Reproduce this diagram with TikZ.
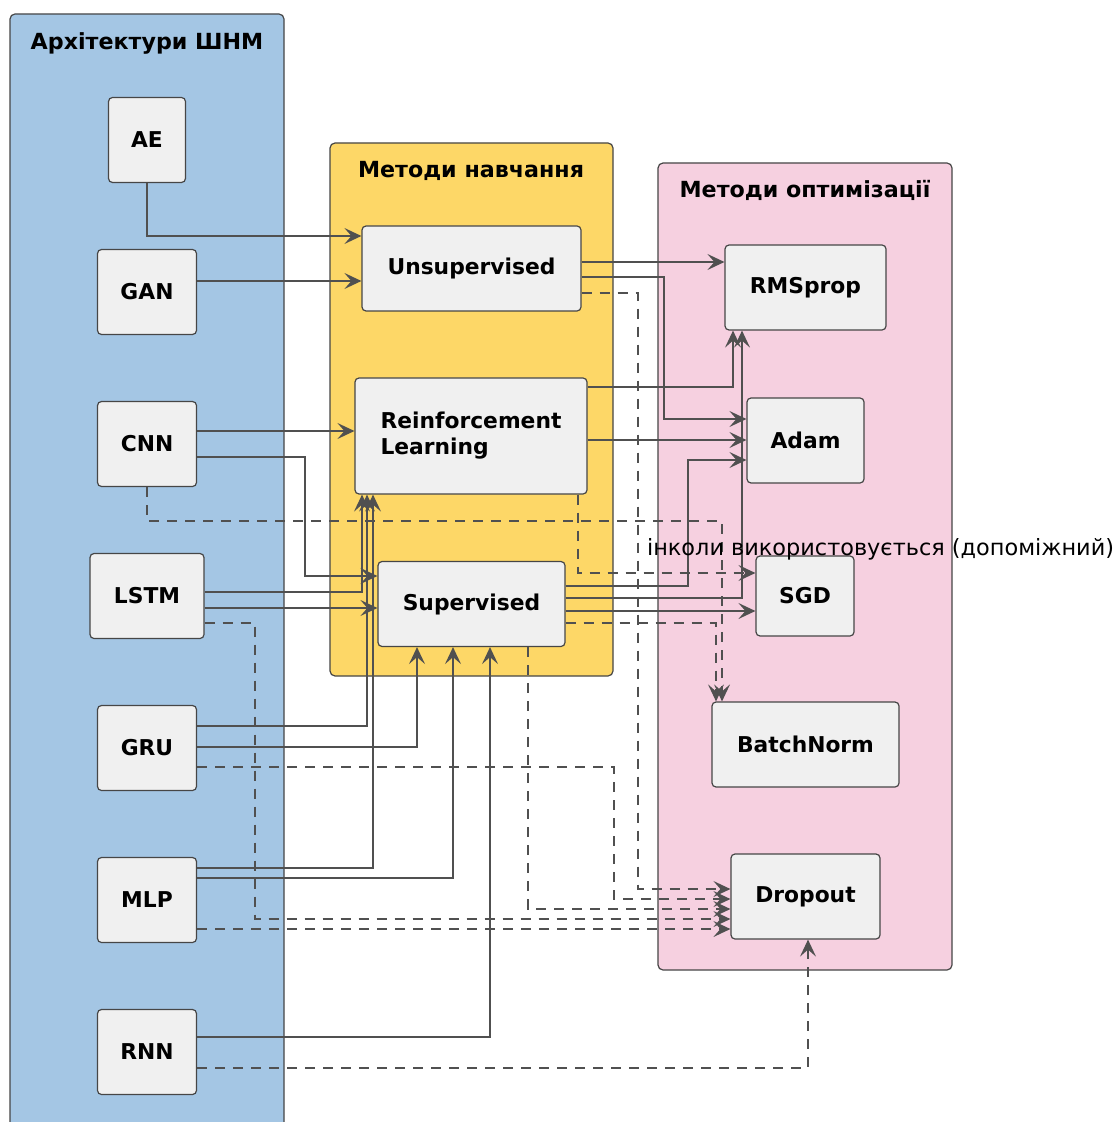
\documentclass[tikz,border=0pt]{standalone}
\usepackage{fontspec}
\setmainfont{DejaVu Sans}
\usetikzlibrary{arrows.meta}

\definecolor{archblue}{RGB}{164,198,228}
\definecolor{trainyellow}{RGB}{253,215,103}
\definecolor{optpink}{RGB}{246,208,224}
\definecolor{boxgray}{RGB}{240,240,240}
\definecolor{edgegray}{RGB}{70,70,70}
\definecolor{linegray}{RGB}{80,80,80}

\begin{document}
\begin{tikzpicture}[x=0.5pt, y=-0.5pt,
font=\fontsize{11.2}{13}\selectfont,
box/.style={draw=edgegray, fill=boxgray, rounded corners=2pt, line width=0.6pt,
    minimum height=42.5pt, inner xsep=4pt, font=\fontsize{10.9}{13}\selectfont\bfseries},
pkg/.style={draw=edgegray, rounded corners=2.5pt, line width=0.6pt},
pkgtitle/.style={font=\fontsize{11.1}{13}\selectfont\bfseries},
conn/.style={draw=linegray, line width=0.75pt, -{Stealth[length=8.5pt,width=8pt,inset=3.5pt]}},
opt/.style={conn, dash pattern=on 5pt off 4pt},
]
\clip (0,0) rectangle (1114,1122);
\fill[white] (0,0) rectangle (1114,1122);

% packages
\draw[pkg, fill=archblue] (10,14) rectangle (284,1150);
\draw[pkg, fill=trainyellow] (330,143) rectangle (613,676);
\draw[pkg, fill=optpink] (658,163) rectangle (952,970);
\node[pkgtitle] (tarch) at (147,43) {Архітектури ШНМ};
\node[pkgtitle] (ttrain) at (471,171) {Методи навчання};
\node[pkgtitle] (topt) at (805,190) {Методи оптимізації};

% architectures
\node[box, minimum width=38.5pt] (ae) at (147,140) {AE};
\node[box, minimum width=49.5pt] (gan) at (147,292) {GAN};
\node[box, minimum width=49.5pt] (cnn) at (147,444) {CNN};
\node[box, minimum width=57pt] (lstm) at (147,596) {LSTM};
\node[box, minimum width=49.5pt] (gru) at (147,748) {GRU};
\node[box, minimum width=49.5pt] (mlp) at (147,900) {MLP};
\node[box, minimum width=49.5pt] (rnn) at (147,1052) {RNN};

% training
\node[box, minimum width=109.5pt] (unsup) at (471.5,268.5) {Unsupervised};
\node[box, minimum width=116pt, minimum height=58pt, align=left] (rl) at (471,436) {Reinforcement\\Learning};
\node[box, minimum width=93.5pt] (sup) at (471.5,604) {Supervised};

% optimisation
\node[box, minimum width=80.5pt] (rms) at (805.5,287.5) {RMSprop};
\node[box, minimum width=58.5pt] (adam) at (805.5,440.5) {Adam};
\node[box, minimum width=49pt, minimum height=40pt] (sgd) at (805,596) {SGD};
\node[box, minimum width=93.5pt] (bn) at (805.5,744.5) {BatchNorm};
\node[box, minimum width=74.5pt] (drop) at (805.5,896.5) {Dropout};

\draw[conn] (ae.south) |- (unsup.west |- 0,236);
\draw[conn] (gan.east |- 0,281) -- (unsup.west |- 0,281);
\draw[conn] (cnn.east |- 0,431) -- (rl.west |- 0,431);
\draw[conn] (cnn.east |- 0,457) -| (305,576) -- (sup.west |- 0,576);
\draw[opt] (cnn.south) |- (722,521) -- (bn.north -| 722,0);

\draw[conn] (unsup.east |- 0,262) -- (rms.west |- 0,262);
\draw[conn] (unsup.east |- 0,277) -| (664,419) -- (adam.west |- 0,419);
\draw[opt] (unsup.east |- 0,293) -| (638,889) -- (drop.west |- 0,889);

\draw[conn] (rl.east |- 0,387) -| (rms.south -| 733,0);
\draw[conn] (rl.east |- 0,440) -- (adam.west |- 0,440);
\draw[opt] (rl.south -| 578,0) |- (sgd.west |- 0,573);

\draw[conn] (sup.east |- 0,586) -| (688,460) -- (adam.west |- 0,460);
\draw[conn] (sup.east |- 0,598) -| (rms.south -| 742,0);
\draw[conn] (sup.east |- 0,611) -- (sgd.west |- 0,611);
\draw[opt] (sup.east |- 0,623) -| (bn.north -| 716,0);
\draw[opt] (sup.south -| 528,0) |- (drop.west |- 0,909);

\draw[conn] (lstm.east |- 0,592) -| (rl.south -| 362,0);
\draw[conn] (lstm.east |- 0,608) -- (sup.west |- 0,608);
\draw[opt] (lstm.east |- 0,623) -| (255,919) -- (drop.west |- 0,919);

\draw[conn] (gru.east |- 0,726) -| (rl.south -| 367,0);
\draw[conn] (gru.east |- 0,747) -| (sup.south -| 417,0);
\draw[opt] (gru.east |- 0,767) -| (614,899) -- (drop.west |- 0,899);

\draw[conn] (mlp.east |- 0,868) -| (rl.south -| 373,0);
\draw[conn] (mlp.east |- 0,878) -| (sup.south -| 453,0);
\draw[opt] (mlp.east |- 0,929) -- (drop.west |- 0,929);

\draw[conn] (rnn.east |- 0,1037) -| (sup.south -| 490,0);
\draw[opt] (rnn.east |- 0,1068) -| (drop.south -| 808,0);

\node[anchor=west] (note) at (640,549) {інколи використовується (допоміжний)};
\end{tikzpicture}
\end{document}
